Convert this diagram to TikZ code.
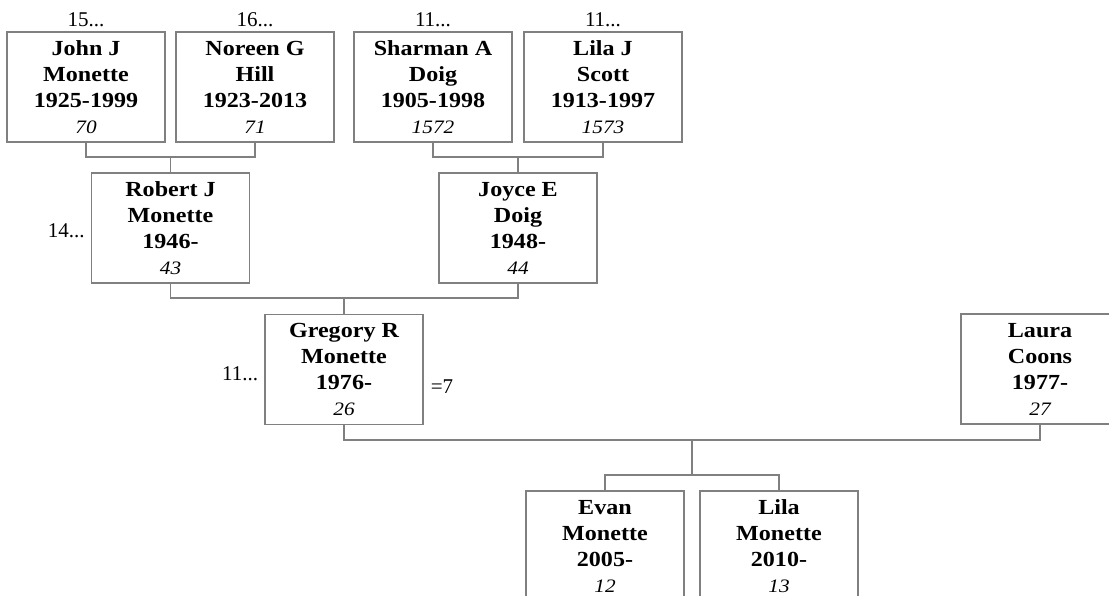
\documentclass[tikz,border=0pt]{standalone}
\usepackage{fontspec}
\setmainfont[FakeStretch=1.12]{Liberation Serif}
\newfontfamily\tagfont{Liberation Serif}
\usetikzlibrary{positioning}
\newcommand{\refno}[1]{{\normalfont\itshape\fontsize{19}{22}\selectfont #1}}

\begin{document}
\begin{tikzpicture}
    [
        x=1pt, y=-1pt,
        person/.style = {
            rectangle, draw=black!50, line width=1.2pt, align=center,
            minimum width=158pt, minimum height=110pt, inner sep=0pt,
            font=\fontsize{21.5}{26}\selectfont\bfseries
            },
        link/.style = {
            draw=black!50, line width=1.2pt
            },
        tag/.style = {
            font=\tagfont\fontsize{21}{26}\selectfont, inner sep=1pt
            },
    ]
    \useasboundingbox (0,0) rectangle (1109,596);
    \clip (0,0) rectangle (1109,596);
    %nodes
    \node[person] (john) at (86,87) {John J\\Monette\\1925-1999\\\refno{70}};
    \node[person] (noreen) at (255,87) {Noreen G\\Hill\\1923-2013\\\refno{71}};
    \node[person] (sharman) at (433,87) {Sharman A\\Doig\\1905-1998\\\refno{1572}};
    \node[person] (lilaj) at (603,87) {Lila J\\Scott\\1913-1997\\\refno{1573}};
    \node[person] (robert) at (170.5,228) {Robert J\\Monette\\1946-\\\refno{43}};
    \node[person] (joyce) at (518,228) {Joyce E\\Doig\\1948-\\\refno{44}};
    \node[person] (gregory) at (344,369.5) {Gregory R\\Monette\\1976-\\\refno{26}};
    \node[person] (laura) at (1040,369) {Laura\\Coons\\1977-\\\refno{27}};
    \node[person] (evan) at (605,546) {Evan\\Monette\\2005-\\\refno{12}};
    \node[person] (lilam) at (779,546) {Lila\\Monette\\2010-\\\refno{13}};
    %side tags
    \node[tag] (johnup) [above=3pt of john] {15...};
    \node[tag] (noreenup) [above=3pt of noreen] {16...};
    \node[tag] (sharmanup) [above=3pt of sharman] {11...};
    \node[tag] (lilajup) [above=3pt of lilaj] {11...};
    \node[tag] (robertup) [left=5pt of robert, yshift=-3pt] {14...};
    \node[tag] (gregoryup) [left=5pt of gregory, yshift=-4pt] {11...};
    \node[tag] (marriage) [right=6pt of gregory, yshift=-17pt] {=7};
    %connecting nodes
    \coordinate (jn) at (170.5,157);
    \coordinate (sl) at (518,157);
    \coordinate (rj) at (344,298);
    \coordinate (gl) at (692,440);
    \coordinate (kids) at (692,475);
    \draw[link] (john.south) |- (jn) -| (noreen.south);
    \draw[link] (jn) -- (robert.north);
    \draw[link] (sharman.south) |- (sl) -| (lilaj.south);
    \draw[link] (sl) -- (joyce.north);
    \draw[link] (robert.south) |- (rj) -| (joyce.south);
    \draw[link] (rj) -- (gregory.north);
    \draw[link] (gregory.south) |- (gl) -| (laura.south);
    \draw[link] (gl) -- (kids);
    \draw[link] (evan.north) |- (kids) -| (lilam.north);

\end{tikzpicture}
\end{document}
